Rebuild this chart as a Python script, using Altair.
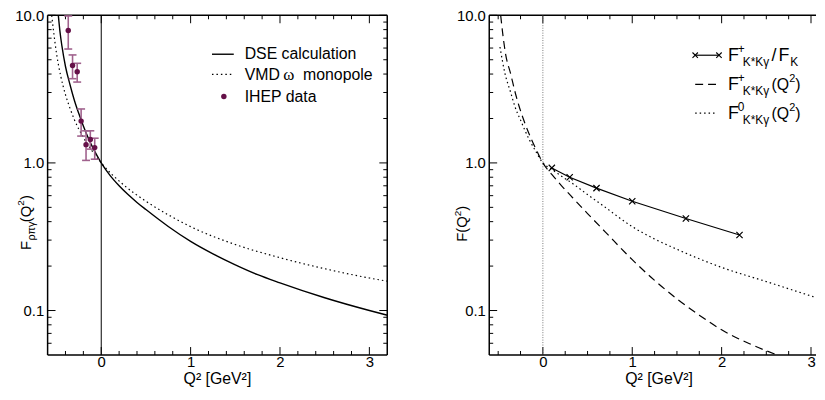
import altair as alt
import pandas as pd

# ---------------- data ----------------
# left panel
dse_q2 = [-0.48, -0.46, -0.44, -0.40, -0.35, -0.30, -0.25, -0.20, -0.15, -0.10, -0.05, 0.0,
          0.1, 0.2, 0.3, 0.4, 0.5, 0.75, 1.0, 1.25, 1.5, 1.75, 2.0, 2.5, 3.0, 3.2]
dse_f = [10.0, 7.6, 6.2, 4.5, 3.4, 2.65, 2.15, 1.78, 1.50, 1.29, 1.13, 1.0,
         0.82, 0.70, 0.61, 0.54, 0.483, 0.371, 0.294, 0.242, 0.204, 0.175, 0.154, 0.122,
         0.100, 0.093]

vmd_q2 = [-0.554, -0.53, -0.50, -0.45, -0.40, -0.35, -0.30, -0.20, -0.10, 0.0,
          0.25, 0.5, 0.75, 1.0, 1.5, 2.0, 2.5, 3.0, 3.2]
vmd_f = [10.0, 7.5, 5.5, 3.8, 2.9, 2.35, 1.96, 1.49, 1.2, 1.0,
         0.71, 0.55, 0.445, 0.37, 0.28, 0.228, 0.192, 0.166, 0.158]

ihep_q2 = [-0.369, -0.321, -0.269, -0.225, -0.170, -0.122, -0.073]
ihep_f = [7.88, 4.57, 4.15, 1.92, 1.33, 1.44, 1.27]
ihep_hi = [9.9, 5.39, 4.73, 2.32, 1.65, 1.65, 1.47]
ihep_lo = [5.91, 3.72, 3.53, 1.52, 1.04, 1.24, 1.06]

# right panel
ratio_q2 = [0.1, 0.3, 0.6, 1.0, 1.6, 2.2]
ratio_f = [0.925, 0.80, 0.675, 0.55, 0.42, 0.325]

fplus_q2 = [-0.472, -0.45, -0.42, -0.36, -0.30, -0.266, -0.20, -0.129, -0.06, 0.0,
            0.1, 0.2, 0.333, 0.5, 0.7, 1.0, 1.25, 1.5, 1.75, 2.0, 2.3, 2.62]
fplus_f = [10.0, 7.6, 5.6, 4.0, 2.85, 2.42, 1.85, 1.45, 1.18, 1.0,
           0.836, 0.711, 0.581, 0.454, 0.340, 0.221, 0.160, 0.120, 0.093, 0.074, 0.060, 0.05]

fzero_q2 = [-0.48, -0.425, -0.36, -0.314, -0.25, -0.155, -0.08, 0.0,
            0.1, 0.2, 0.333, 0.5, 0.67, 1.0, 1.25, 1.5, 1.75, 2.0, 2.5, 3.1]
fzero_f = [6.1, 4.06, 3.0, 2.42, 1.95, 1.45, 1.2, 1.0,
           0.905, 0.82, 0.725, 0.61, 0.515, 0.37, 0.305, 0.26, 0.224, 0.196, 0.157, 0.12]

zero_line = [0.0]

# axis tick values
x_major = [0, 1, 2, 3]
left_x_minor = [-0.4, -0.2, 0.2, 0.4, 0.6, 0.8, 1.2, 1.4, 1.6, 1.8, 2.2, 2.4, 2.6, 2.8]
right_x_minor = [-0.5, -0.25, 0.25, 0.5, 0.75, 1.25, 1.5, 1.75, 2.25, 2.5, 2.75]
y_major = [0.1, 1.0, 10.0]
y_minor = [0.06, 0.07, 0.08, 0.09, 0.2, 0.3, 0.4, 0.5, 0.6, 0.7, 0.8, 0.9,
           2, 3, 4, 5, 6, 7, 8, 9]

# ---------------- styling ----------------
FONT = "Liberation Sans"
H = 343
WL = 343          # left plot width  (Q2 from -0.6 to 3.2)
WR = 330          # right plot width (Q2 from -0.6 to ~3.06, cut by the page edge)
XR_MAX = -0.6 + WR * 3.8 / WL
DOT = "#651048"
ERR = "#a0628d"
ONE = pd.DataFrame({"a": [0]})

ys = alt.Scale(type="log", domain=[0.05, 10], nice=False)
AX_X = alt.Axis(values=x_major, format="d", ticks=False, tickSize=0, domain=False,
                grid=False, labelFontSize=15, labelPadding=0, title=None, labelFont=FONT,
                labelColor="black")
AX_Y = alt.Axis(values=y_major, format=".1f", ticks=False, tickSize=0, domain=False,
                grid=False, labelFontSize=15, labelPadding=4, title=None, labelFont=FONT,
                labelColor="black")


def txt(s, x, y, size, angle=None, align="left", font=FONT):
    kw = dict(text=s, fontSize=size, align=align, baseline="alphabetic", font=font,
              color="black")
    if angle is not None:
        kw["angle"] = angle
    return alt.Chart(ONE).mark_text(**kw).encode(x=alt.value(x), y=alt.value(y))


def hline(x1, x2, y, dash=None, width=1.2, color="black"):
    kw = dict(color=color, strokeWidth=width)
    if dash:
        kw["strokeDash"] = dash
    return alt.Chart(ONE).mark_rule(**kw).encode(x=alt.value(x1), x2=alt.value(x2),
                                                 y=alt.value(y))


def vline(x, y1, y2, width=1.5):
    return alt.Chart(ONE).mark_rule(color="black", strokeWidth=width).encode(
        x=alt.value(x), y=alt.value(y1), y2=alt.value(y2))


XSHAPE = "M-1,-1L1,1M-1,1L1,-1"
CAP = "M-1,0L1,0"


def panel(xmax, W, x_minor, right_edge, content):
    xs = alt.Scale(domain=[-0.6, xmax], nice=False, zero=False)
    X = lambda f: alt.X(f, type="quantitative", scale=xs, axis=AX_X)
    Y = lambda f: alt.Y(f, type="quantitative", scale=ys, axis=AX_Y)
    layers = []
    for vals, L in [(x_major, 8), (x_minor, 4)]:
        base = alt.Chart(pd.DataFrame({"q2": vals})).mark_rule(color="black", strokeWidth=1)
        layers.append(base.encode(x=X("q2"), y=alt.value(H), y2=alt.value(H - L)))
        layers.append(base.encode(x=X("q2"), y=alt.value(0), y2=alt.value(L)))
    for vals, L in [(y_major, 8), (y_minor, 4)]:
        base = alt.Chart(pd.DataFrame({"f": vals})).mark_rule(color="black", strokeWidth=1)
        layers.append(base.encode(y=Y("f"), x=alt.value(0), x2=alt.value(L)))
        if right_edge:
            layers.append(base.encode(y=Y("f"), x=alt.value(W - L), x2=alt.value(W)))
    # frame
    layers += [hline(0, W, 0, width=1.5), hline(0, W, H, width=1.5), vline(0, 0, H)]
    if right_edge:
        layers.append(vline(W, 0, H))
    layers += content(X, Y)
    return alt.layer(*layers).properties(width=W, height=H)


def curve(X, Y, q2, f, dash=None, width=1.2):
    kw = dict(color="black", strokeWidth=width, clip=True, interpolate="monotone")
    if dash:
        kw["strokeDash"] = dash
    return alt.Chart(pd.DataFrame({"q2": q2, "f": f})).mark_line(**kw).encode(
        x=X("q2"), y=Y("f"))


# ---------------- left panel ----------------
ihep = pd.DataFrame({"q2": ihep_q2, "f": ihep_f, "hi": ihep_hi, "lo": ihep_lo})


def left_content(X, Y):
    return [
        alt.Chart(pd.DataFrame({"q2": zero_line})).mark_rule(color="black", strokeWidth=1)
           .encode(x=X("q2")),
        curve(X, Y, vmd_q2, vmd_f, dash=[1.5, 3]),
        curve(X, Y, dse_q2, dse_f, width=1.4),
        alt.Chart(ihep).mark_rule(color=ERR, strokeWidth=1.6).encode(
            x=X("q2"), y=Y("lo"), y2="hi"),
        alt.Chart(ihep).mark_point(shape=CAP, size=64, filled=False, color=ERR,
                                   strokeWidth=1.6, opacity=1).encode(x=X("q2"), y=Y("hi")),
        alt.Chart(ihep).mark_point(shape=CAP, size=64, filled=False, color=ERR,
                                   strokeWidth=1.6, opacity=1).encode(x=X("q2"), y=Y("lo")),
        alt.Chart(ihep).mark_point(shape="circle", size=30, filled=True, color=DOT,
                                   opacity=1).encode(x=X("q2"), y=Y("f")),
        # legend
        hline(166, 188, 39.3, width=1.4),
        hline(166, 188, 59.7, dash=[1.5, 3]),
        alt.Chart(ONE).mark_point(shape="circle", size=30, filled=True, color=DOT, opacity=1)
           .encode(x=alt.value(178), y=alt.value(82)),
        txt("DSE calculation", 199, 44.5, 16),
        txt("VMD", 199, 65.5, 16),
        txt("ω", 238, 65.5, 17, font="Liberation Serif"),
        txt("monopole", 258, 65.5, 16),
        txt("IHEP data", 199, 88, 16),
        # axis titles
        txt("Q² [GeV²]", 171.5, 372.5, 16, align="center"),
        txt("F", -17, 237, 15, angle=270),
        txt("ρπγ", -12.5, 227.5, 11, angle=270),
        txt("(Q", -17, 209, 15, angle=270),
        txt("2", -24, 192.3, 10, angle=270),
        txt(")", -17, 186.5, 15, angle=270),
    ]


left = panel(3.2, WL, left_x_minor, True, left_content)

# ---------------- right panel ----------------
ratio = pd.DataFrame({"q2": ratio_q2, "f": ratio_f})
R1, R2, R3 = 46.3, 75.3, 104.3


def right_content(X, Y):
    return [
        alt.Chart(pd.DataFrame({"q2": zero_line})).mark_rule(
            color="#555555", strokeWidth=0.8, strokeDash=[1, 1.5]).encode(x=X("q2")),
        curve(X, Y, fzero_q2, fzero_f, dash=[1.5, 3]),
        curve(X, Y, fplus_q2, fplus_f, dash=[8, 5]),
        alt.Chart(ratio).mark_line(color="black", strokeWidth=1.2).encode(
            x=X("q2"), y=Y("f")),
        alt.Chart(ratio).mark_point(shape=XSHAPE, size=40, filled=False, color="black",
                                    strokeWidth=1.2, opacity=1).encode(x=X("q2"), y=Y("f")),
        # legend
        hline(208, 232, 40.3),
        alt.Chart(ONE).mark_point(shape=XSHAPE, size=30, filled=False, color="black",
                                  strokeWidth=1.1, opacity=1)
           .encode(x=alt.value(208), y=alt.value(40.3)),
        alt.Chart(ONE).mark_point(shape=XSHAPE, size=30, filled=False, color="black",
                                  strokeWidth=1.1, opacity=1)
           .encode(x=alt.value(232), y=alt.value(40.3)),
        hline(208, 230, 69.7, dash=[8, 5]),
        hline(208, 230, 98.7, dash=[1.5, 3]),
        txt("F", 241, R1, 18), txt("+", 251, R1 - 8, 12), txt("K*Kγ", 256, R1 + 5.2, 12),
        txt("/", 285, R1, 18), txt("F", 292, R1, 18), txt("K", 304, R1 + 5.2, 12),
        txt("F", 241, R2, 18), txt("+", 251, R2 - 8, 12), txt("K*Kγ", 256, R2 + 5.2, 12),
        txt("(Q", 285, R2, 16), txt("2", 303, R2 - 8, 11), txt(")", 309, R2, 16),
        txt("F", 241, R3, 18), txt("0", 251, R3 - 8, 12), txt("K*Kγ", 256, R3 + 5.2, 12),
        txt("(Q", 285, R3, 16), txt("2", 303, R3 - 8, 11), txt(")", 309, R3, 16),
        # axis titles
        txt("Q²  [GeV²]", 171.5, 372.5, 16, align="center"),
        txt("F(Q", -22, 228.7, 15, angle=270),
        txt("2", -29, 202.9, 10, angle=270),
        txt(")", -22, 197.3, 15, angle=270),
    ]


right = panel(XR_MAX, WR, right_x_minor, False, right_content)

chart = alt.hconcat(left, right, spacing=103, bounds="flush").configure_view(
    strokeWidth=0
).properties(padding={"left": 6, "top": -1.5, "right": 0, "bottom": 0})

chart.save("out.html", embed_options={"renderer": "svg", "actions": False})
